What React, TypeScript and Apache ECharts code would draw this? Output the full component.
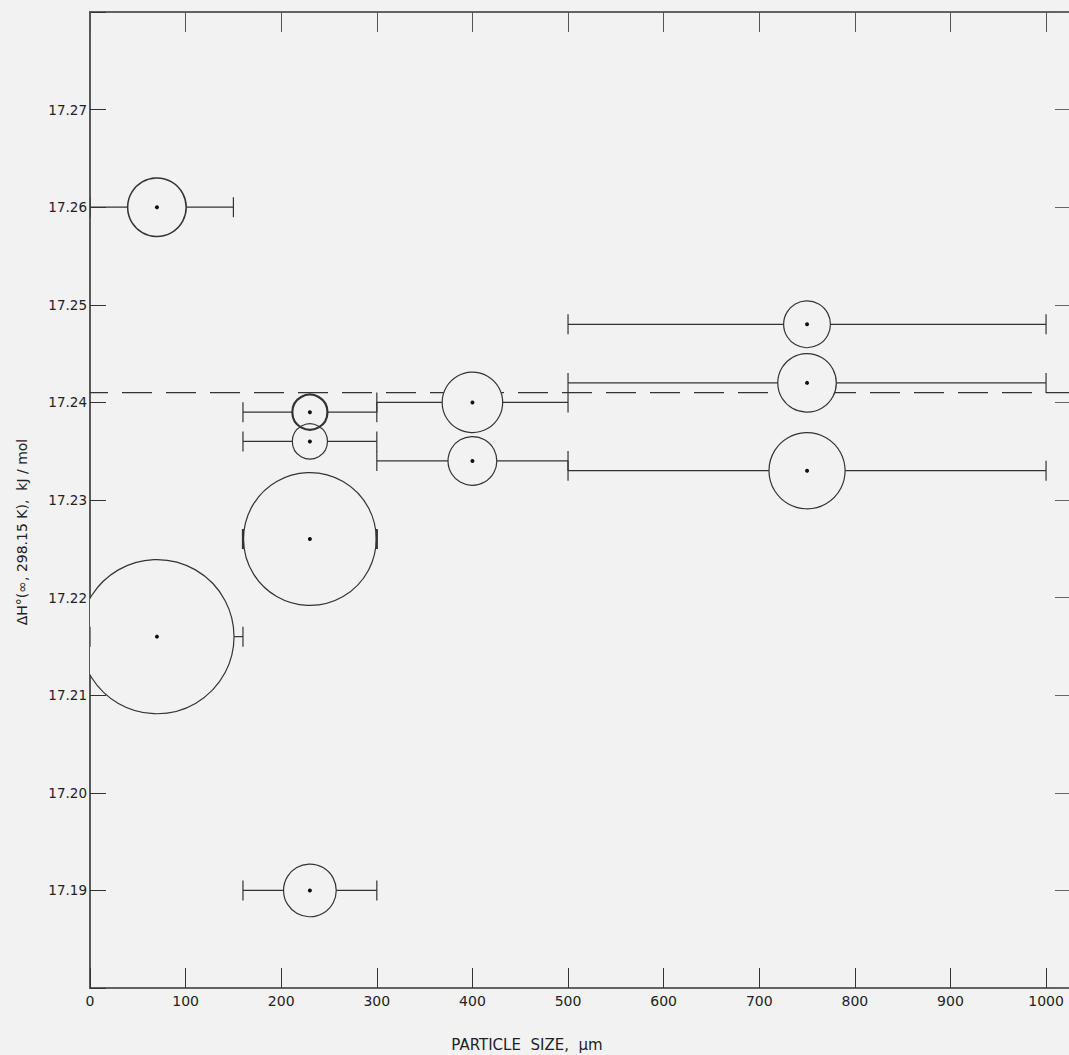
import React, { useEffect, useRef } from "react";
import * as echarts from "echarts";

// Particle size (µm) of each measurement (circle centre)
const sizes = [70, 70, 230, 230, 230, 230, 400, 400, 750, 750, 750];
// ΔH° values (kJ/mol)
const enthalpies = [17.26, 17.216, 17.239, 17.236, 17.226, 17.19, 17.24, 17.234, 17.248, 17.242, 17.233];
// Particle size ranges (sieve fractions)
const sizeLow = [0, 0, 160, 160, 160, 160, 300, 300, 500, 500, 500];
const sizeHigh = [150, 160, 300, 300, 300, 300, 500, 500, 1000, 1000, 1000];
// Circle radius in kJ/mol (uncertainty)
const radii = [0.003, 0.0079, 0.0018, 0.0018, 0.0068, 0.0027, 0.0031, 0.0025, 0.0024, 0.003, 0.0039];
// Mean value (dashed line)
const meanValue = 17.241;

const xTicks = [0, 100, 200, 300, 400, 500, 600, 700, 800, 900, 1000];
const yTickLabels = ["17.19", "17.20", "17.21", "17.22", "17.23", "17.24", "17.25", "17.26", "17.27"];

const X_MIN = 0;
const X_MAX = 1024;
const Y_MIN = 17.18;
const Y_MAX = 17.28;

const BG = "#f2f2f2";
const INK = "#333333";
const FONT = "DejaVu Sans";

export default function App() {
  const ref = useRef<HTMLDivElement>(null);

  useEffect(() => {
    document.body.style.margin = "0";
    document.body.style.background = BG;
    if (!ref.current) return;
    const chart = echarts.init(ref.current, undefined, { renderer: "svg" });

    const data = sizes.map((s, i) => [s, enthalpies[i], sizeLow[i], sizeHigh[i], radii[i]]);

    const fillItem = (params: any, api: any) => {
      const c = api.coord([api.value(0), api.value(1)]);
      const r = Math.abs(api.size([0, api.value(4)])[1]);
      return {
        type: "circle",
        shape: { cx: c[0], cy: c[1], r },
        style: { fill: BG, stroke: "none" },
      };
    };

    const strokeItem = (params: any, api: any) => {
      const y = api.value(1);
      const c = api.coord([api.value(0), y]);
      const r = Math.abs(api.size([0, api.value(4)])[1]);
      const lo = api.coord([api.value(2), y])[0];
      const hi = api.coord([api.value(3), y])[0];
      const sw = params.dataIndex === 2 ? 2.2 : params.dataIndex === 0 ? 1.5 : 1.2;
      const ls = { stroke: INK, lineWidth: 1.2 };
      const children: any[] = [
        {
          type: "circle",
          shape: { cx: c[0], cy: c[1], r },
          style: { fill: "none", stroke: INK, lineWidth: sw },
        },
        {
          type: "circle",
          shape: { cx: c[0], cy: c[1], r: 2 },
          style: { fill: "#111", stroke: "none" },
        },
      ];
      if (lo < c[0] - r) {
        children.push({ type: "line", shape: { x1: lo, y1: c[1], x2: c[0] - r, y2: c[1] }, style: ls });
      }
      if (hi > c[0] + r) {
        children.push({ type: "line", shape: { x1: c[0] + r, y1: c[1], x2: hi, y2: c[1] }, style: ls });
      }
      const capW = Math.abs(lo - (c[0] - r)) < 3 ? 2.2 : 1.2;
      const capWh = Math.abs(hi - (c[0] + r)) < 3 ? 2.2 : 1.2;
      children.push({ type: "line", shape: { x1: lo, y1: c[1] - 10, x2: lo, y2: c[1] + 10 }, style: { stroke: INK, lineWidth: capW } });
      children.push({ type: "line", shape: { x1: hi, y1: c[1] - 10, x2: hi, y2: c[1] + 10 }, style: { stroke: INK, lineWidth: capWh } });
      return { type: "group", children };
    };

    const yLabel = (v: number) => {
      const s = v.toFixed(2);
      return yTickLabels.indexOf(s) >= 0 ? s : "";
    };
    const xLabel = (v: number) => (xTicks.indexOf(Math.round(v)) >= 0 ? String(Math.round(v)) : "");

    chart.setOption({
      animation: false,
      backgroundColor: BG,
      grid: { left: 90, top: 12, right: 0, bottom: 67, containLabel: false },
      textStyle: { fontFamily: FONT },
      xAxis: [
        {
          type: "value",
          min: X_MIN,
          max: X_MAX,
          interval: 100,
          position: "bottom",
          splitLine: { show: false },
          axisLine: { show: true, onZero: false, lineStyle: { color: INK, width: 1.6 } },
          axisTick: { show: true, inside: true, length: 20, lineStyle: { color: INK, width: 1 } },
          axisLabel: {
            formatter: xLabel,
            color: "#222",
            fontFamily: FONT,
            fontSize: 14,
            margin: 6,
            showMaxLabel: false,
          },
        },
        {
          type: "value",
          min: X_MIN,
          max: X_MAX,
          interval: 100,
          position: "top",
          splitLine: { show: false },
          axisLine: { show: true, onZero: false, lineStyle: { color: INK, width: 1.6 } },
          axisTick: { show: true, inside: true, length: 20, lineStyle: { color: "#555", width: 1 } },
          axisLabel: { show: false },
        },
      ],
      yAxis: [
        {
          type: "value",
          min: Y_MIN,
          max: Y_MAX,
          interval: 0.01,
          position: "left",
          splitLine: { show: false },
          axisLine: { show: true, onZero: false, lineStyle: { color: INK, width: 1.6 } },
          axisTick: { show: true, inside: true, length: 16, lineStyle: { color: INK, width: 1 } },
          axisLabel: {
            formatter: yLabel,
            color: "#222",
            fontFamily: FONT,
            fontSize: 13.5,
            margin: 3,
          },
        },
        {
          type: "value",
          min: Y_MIN,
          max: Y_MAX,
          interval: 0.01,
          position: "right",
          splitLine: { show: false },
          axisLine: { show: true, onZero: false, lineStyle: { color: "#c8c8c8", width: 1 } },
          axisTick: { show: true, inside: true, length: 14, lineStyle: { color: "#666", width: 1 } },
          axisLabel: { show: false },
        },
      ],
      series: [
        {
          type: "line",
          z: 1,
          symbol: "none",
          data: [[X_MIN, meanValue], [X_MAX, meanValue]],
          lineStyle: { color: INK, width: 1.3, type: [30, 14], dashOffset: -32 },
          silent: true,
        },
        {
          type: "custom",
          z: 2,
          clip: true,
          renderItem: fillItem,
          data,
          silent: true,
        },
        {
          type: "custom",
          z: 3,
          clip: true,
          renderItem: strokeItem,
          data,
          silent: true,
        },
      ],
      graphic: [
        {
          type: "text",
          x: 22,
          y: 532,
          rotation: Math.PI / 2,
          style: {
            text: "ΔH°(∞, 298.15 K),  kJ / mol",
            fontFamily: FONT,
            fontSize: 14,
            fill: "#222",
            align: "center",
            verticalAlign: "middle",
          },
        },
        {
          type: "text",
          x: 527,
          y: 1045,
          style: {
            text: "PARTICLE  SIZE,  μm",
            fontFamily: FONT,
            fontSize: 15,
            fill: "#222",
            align: "center",
            verticalAlign: "middle",
          },
        },
      ],
    });

    return () => chart.dispose();
  }, []);

  return <div ref={ref} style={{ width: 1069, height: 1055 }} />;
}
